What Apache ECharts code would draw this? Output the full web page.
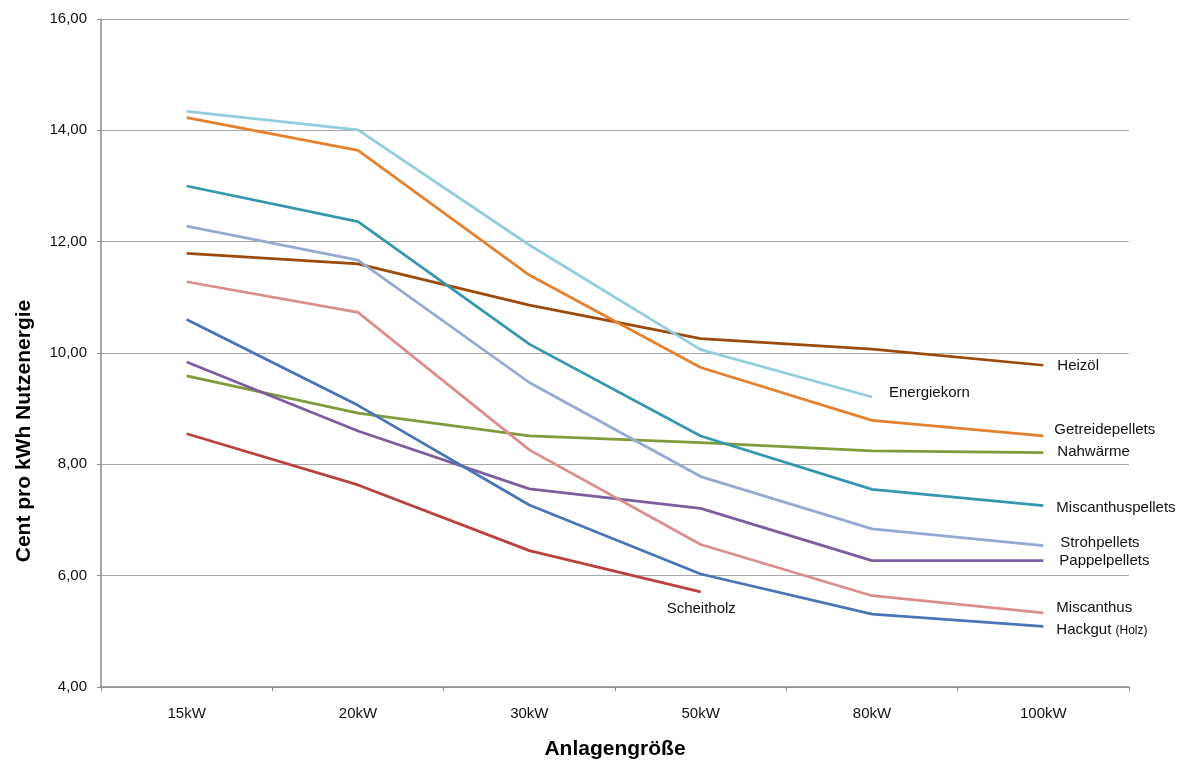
<!DOCTYPE html>
<html>
<head>
<meta charset="utf-8">
<script src="https://cdn.jsdelivr.net/npm/echarts@6/dist/echarts.min.js"></script>
<style>
  html, body { margin: 0; padding: 0; background: #fff; overflow: hidden; }
  #chart { width: 1198px; height: 765px; }
</style>
</head>
<body>
<div id="chart"></div>
<script>
// Plant sizes on the category axis
const sizes = ['15kW', '20kW', '30kW', '50kW', '80kW', '100kW'];

// Heating cost in cent per kWh of useful energy, per fuel
const energiekorn       = [14.34, 14.01, 11.94, 10.06, 9.21];
const getreidepellets   = [14.23, 13.64, 11.40, 9.74, 8.79, 8.51];
const miscanthuspellets = [13.00, 12.36, 10.16, 8.51, 7.55, 7.26];
const strohpellets      = [12.28, 11.67, 9.47, 7.78, 6.84, 6.54];
const heizoel           = [11.79, 11.60, 10.86, 10.26, 10.07, 9.78];
const miscanthus        = [11.28, 10.73, 8.26, 6.56, 5.64, 5.33];
const hackgut           = [10.60, 9.06, 7.27, 6.03, 5.31, 5.09];
const pappelpellets     = [9.84, 8.60, 7.56, 7.21, 6.27, 6.27];
const nahwaerme         = [9.59, 8.92, 8.51, 8.39, 8.24, 8.21];
const scheitholz        = [8.55, 7.63, 6.45, 5.71];

// Value axis range and step
const yMin = 4, yMax = 16, yStep = 2;

const FONT = '"Liberation Sans", Arial, sans-serif';

function line(name, data, color, offset, labelText) {
  return {
    name: name,
    type: 'line',
    data: data,
    symbol: 'none',
    smooth: false,
    lineStyle: { color: color, width: 2.75 },
    itemStyle: { color: color },
    endLabel: {
      show: true,
      distance: 0,
      offset: offset,
      fontFamily: FONT,
      fontSize: 15,
      color: '#111',
      formatter: labelText || name,
      rich: {
        small: { fontFamily: FONT, fontSize: 12, color: '#111' }
      }
    },
    emphasis: { disabled: true },
    animation: false
  };
}

const chart = echarts.init(document.getElementById('chart'), null, { renderer: 'canvas', width: 1198, height: 765 });

chart.setOption({
  animation: false,
  backgroundColor: '#ffffff',
  grid: { left: 101, top: 19, width: 1028, height: 673, containLabel: false },
  xAxis: {
    type: 'category',
    data: sizes,
    boundaryGap: true,
    axisLine: { lineStyle: { color: '#8a8a8a', width: 1.5 } },
    axisTick: { show: true, inside: false, length: 4, interval: 0, lineStyle: { color: '#8a8a8a' } },
    axisLabel: { fontFamily: FONT, fontSize: 15, color: '#111', margin: 19 },
    splitLine: { show: false },
    name: 'Anlagengröße',
    nameLocation: 'middle',
    nameGap: 52,
    nameTextStyle: { fontFamily: FONT, fontSize: 21, fontWeight: 'bold', color: '#000' }
  },
  yAxis: {
    type: 'value',
    min: yMin,
    max: yMax,
    interval: yStep,
    axisLine: { show: true, lineStyle: { color: '#8a8a8a', width: 1.5 } },
    axisTick: { show: true, inside: false, length: 4, lineStyle: { color: '#8a8a8a' } },
    axisLabel: {
      fontFamily: FONT, fontSize: 15, color: '#111', margin: 14,
      formatter: v => v.toFixed(2).replace('.', ',')
    },
    splitLine: { show: true, lineStyle: { color: '#a8a8a8', width: 1.2 } }
  },
  graphic: [{
    type: 'text',
    x: 24,
    y: 431,
    rotation: Math.PI / 2,
    style: {
      text: 'Cent pro kWh Nutzenergie',
      font: 'bold 21px ' + FONT,
      fill: '#000',
      align: 'center',
      verticalAlign: 'middle'
    }
  }],
  series: [
    line('Nahwärme', nahwaerme, '#7E9C3C', [14, -1]),
    line('Heizöl', heizoel, '#9A4A0C', [14, 1]),
    line('Energiekorn', energiekorn, '#93CDDD', [17, -4]),
    line('Getreidepellets', getreidepellets, '#E5802F', [11, -6]),
    line('Miscanthuspellets', miscanthuspellets, '#3497AE', [13, 2]),
    line('Strohpellets', strohpellets, '#95A9D1', [17, -3]),
    line('Pappelpellets', pappelpellets, '#7C5E9E', [16, 0]),
    line('Miscanthus', miscanthus, '#D88F8E', [13, -5]),
    line('Hackgut', hackgut, '#4A74B5', [13, 4], 'Hackgut {small|(Holz)}'),
    line('Scheitholz', scheitholz, '#B9413F', [-34, 17])
  ]
});
</script>
</body>
</html>
